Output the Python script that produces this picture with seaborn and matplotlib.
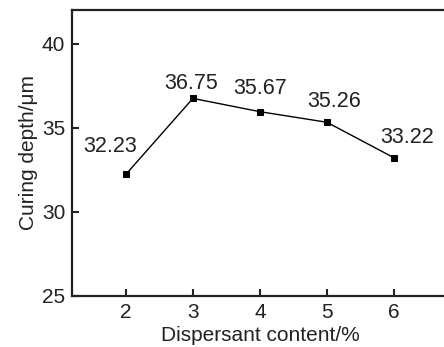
import matplotlib
matplotlib.use("Agg")
import matplotlib.pyplot as plt
import seaborn as sns
import pandas as pd

# Data
dispersant = [2, 3, 4, 5, 6]
depth_plotted = [32.22, 36.74, 35.95, 35.32, 33.21]
depth_labels = ["32.23", "36.75", "35.67", "35.26", "33.22"]
yticks = [25, 30, 35, 40]
xticks = [2, 3, 4, 5, 6]

df = pd.DataFrame({"x": dispersant, "y": depth_plotted})

sns.set_style("ticks")
plt.rcParams["font.family"] = ["Liberation Sans", "DejaVu Sans"]

W, H = 444, 347
fig = plt.figure(figsize=(W / 100, H / 100), dpi=100)
left = 72.3 / W
bottom = 1 - 295.7 / H
top = 1 - 10 / H
right_px = 447.5
ax = fig.add_axes([left, bottom, (right_px - 72.3) / W, top - bottom])

sns.lineplot(data=df, x="x", y="y", ax=ax, color="black", linewidth=1.0,
             marker="s", markersize=5, markeredgecolor="black",
             markerfacecolor="black")

offsets = [(-16, 28), (-2, 15), (0, 23), (7, 21), (13, 20)]
for xv, yv, lab, off in zip(dispersant, depth_plotted, depth_labels, offsets):
    ax.annotate(lab, (xv, yv), xytext=off, textcoords="offset pixels",
                ha="center", va="center", fontsize=15.5, color="#222222")

ax.set_xlim(1.2, 6.8)
ax.set_ylim(25, 42)
ax.set_xticks(xticks)
ax.set_yticks(yticks)
ax.tick_params(direction="in", length=5, width=1.5, labelsize=15, pad=5,
               colors="#222222")
for s in ["left", "bottom", "top"]:
    ax.spines[s].set_linewidth(1.6)
    ax.spines[s].set_color("#222222")
ax.spines["right"].set_visible(False)

ax.set_xlabel("Dispersant content/%", fontsize=15, color="#222222", labelpad=3)
ax.set_ylabel("Curing depth/μm", fontsize=15, color="#222222", labelpad=3)

fig.savefig("out.png", dpi=100)
